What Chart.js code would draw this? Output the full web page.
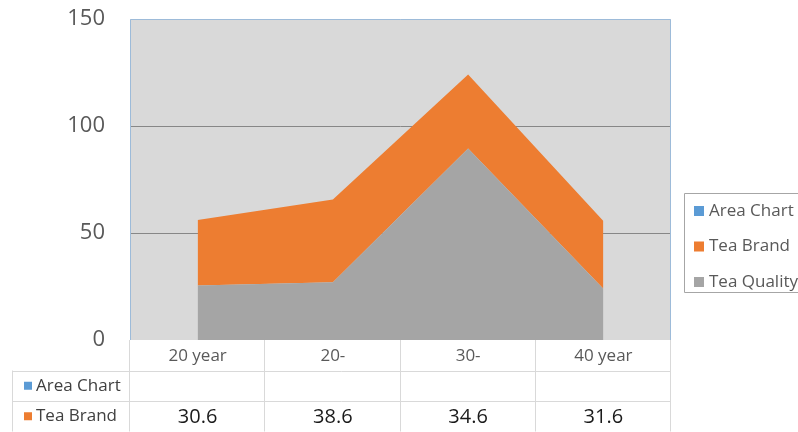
<!DOCTYPE html>
<html>
<head>
<meta charset="utf-8">
<title>Tea Brand / Tea Quality</title>
<script src="https://cdn.jsdelivr.net/npm/chart.js@4/dist/chart.umd.min.js"></script>
<style>
  html, body { margin: 0; padding: 0; background: #ffffff; }
  #wrap { width: 798px; height: 432px; position: relative; }
</style>
</head>
<body>
<div id="wrap"><canvas id="chart" width="798" height="432"></canvas></div>
<script>
// Categories along the x axis
const categories = ['20 year', '20-', '30-', '40 year'];
// Series values
const areaChart = [null, null, null, null];
const teaBrand = [30.6, 38.6, 34.6, 31.6];
const teaQuality = [25.5, 27, 89.5, 24];
// Y axis ticks
const yTicks = [0, 50, 100, 150];

const FONT = "'Open Sans', 'Liberation Sans', sans-serif";
const COLORS = {
  area: '#5b9bd5',
  brand: '#ed7d31',
  quality: '#a5a5a5',
  plotBg: '#d9d9d9',
  grid: '#878787',
  frame: '#9dbbd9',
  table: '#d9d9d9'
};

// Series shown in the legend, top to bottom
const legendOrder = [
  { label: 'Area Chart', color: COLORS.area },
  { label: 'Tea Brand', color: COLORS.brand },
  { label: 'Tea Quality', color: COLORS.quality }
];
// Rows of the data table under the axis
const tableRows = [
  { label: 'Area Chart', color: COLORS.area, values: areaChart },
  { label: 'Tea Brand', color: COLORS.brand, values: teaBrand }
];

// Gray plot background, drawn before grid lines and areas
const plotBackground = {
  id: 'plotBackground',
  beforeDraw(chart) {
    const { ctx, chartArea: a } = chart;
    ctx.save();
    ctx.fillStyle = COLORS.plotBg;
    ctx.fillRect(a.left, a.top, a.right - a.left, a.bottom - a.top);
    ctx.restore();
  }
};

// Thin frame on the left, top and right of the plot
const plotFrame = {
  id: 'plotFrame',
  afterDatasetsDraw(chart) {
    const { ctx, chartArea: a } = chart;
    ctx.save();
    ctx.strokeStyle = COLORS.frame;
    ctx.lineWidth = 1;
    ctx.beginPath();
    ctx.moveTo(a.left + 0.5, a.bottom);
    ctx.lineTo(a.left + 0.5, a.top + 0.5);
    ctx.lineTo(a.right - 0.5, a.top + 0.5);
    ctx.lineTo(a.right - 0.5, a.bottom);
    ctx.stroke();
    ctx.restore();
  }
};

// Data table below the plot, aligned to the category columns
const dataTable = {
  id: 'dataTable',
  afterDraw(chart) {
    const { ctx, chartArea: a } = chart;
    const x = chart.scales.x;
    const n = categories.length;
    const colW = (a.right - a.left) / n;
    const rowH = 30.5;
    const tableTop = a.bottom;
    const rowTops = [tableTop, tableTop + rowH, tableTop + 2 * rowH];
    const tableBottom = tableTop + 3 * rowH;
    const leftEdge = 12.5;

    ctx.save();
    ctx.strokeStyle = COLORS.table;
    ctx.lineWidth = 1;
    ctx.beginPath();
    // horizontal rules
    for (let r = 1; r <= 3; r++) {
      const y = Math.round(tableTop + r * rowH) + 0.5;
      ctx.moveTo(leftEdge, y);
      ctx.lineTo(a.right, y);
    }
    // column rules
    for (let c = 0; c <= n; c++) {
      const xx = Math.round(a.left + c * colW) - 0.5;
      ctx.moveTo(xx, tableTop);
      ctx.lineTo(xx, tableBottom);
    }
    // left edge of the label column
    ctx.moveTo(leftEdge, rowTops[1]);
    ctx.lineTo(leftEdge, tableBottom);
    ctx.stroke();

    tableRows.forEach((row, i) => {
      const cy = rowTops[i + 1] + rowH / 2;
      ctx.fillStyle = row.color;
      ctx.fillRect(24, cy - 4, 8, 8);
      ctx.fillStyle = '#404040';
      ctx.font = '17px ' + FONT;
      ctx.textAlign = 'left';
      ctx.textBaseline = 'middle';
      ctx.fillText(row.label, 36, cy);
      ctx.fillStyle = '#1a1a1a';
      ctx.font = '20px ' + FONT;
      ctx.textAlign = 'center';
      row.values.forEach((v, j) => {
        if (v === null || v === undefined) return;
        ctx.fillText(String(v), x.getPixelForValue(j), cy + 1);
      });
    });
    ctx.restore();
  }
};

// Boxed legend at the right edge
const sideLegend = {
  id: 'sideLegend',
  afterDraw(chart) {
    const { ctx } = chart;
    const boxLeft = 684.5, boxTop = 193.5, boxBottom = 292.5;
    ctx.save();
    ctx.strokeStyle = '#a6a6a6';
    ctx.lineWidth = 1;
    ctx.beginPath();
    ctx.moveTo(chart.width + 2, boxTop);
    ctx.lineTo(boxLeft, boxTop);
    ctx.lineTo(boxLeft, boxBottom);
    ctx.lineTo(chart.width + 2, boxBottom);
    ctx.stroke();
    ctx.font = '17px ' + FONT;
    ctx.textAlign = 'left';
    ctx.textBaseline = 'middle';
    legendOrder.forEach((item, i) => {
      const cy = 211 + i * 35.5;
      ctx.fillStyle = item.color;
      ctx.fillRect(694, cy - 5, 10, 10);
      ctx.fillStyle = '#595959';
      ctx.fillText(item.label, 709, cy);
    });
    ctx.restore();
  }
};

new Chart(document.getElementById('chart'), {
  type: 'line',
  data: {
    labels: categories,
    datasets: [
      {
        label: 'Tea Quality',
        data: teaQuality,
        backgroundColor: COLORS.quality,
        borderColor: COLORS.quality,
        borderWidth: 0,
        pointRadius: 0,
        fill: 'origin',
        tension: 0
      },
      {
        label: 'Tea Brand',
        data: teaBrand,
        backgroundColor: COLORS.brand,
        borderColor: COLORS.brand,
        borderWidth: 0,
        pointRadius: 0,
        fill: '-1',
        tension: 0
      },
      {
        label: 'Area Chart',
        data: areaChart,
        backgroundColor: COLORS.area,
        borderColor: COLORS.area,
        borderWidth: 0,
        pointRadius: 0,
        fill: '-1',
        tension: 0
      }
    ]
  },
  options: {
    responsive: false,
    animation: false,
    devicePixelRatio: 1,
    layout: { padding: { left: 0, right: 127, top: 19, bottom: 0 } },
    plugins: {
      legend: { display: false },
      tooltip: { enabled: false },
      filler: { propagate: false }
    },
    scales: {
      x: {
        type: 'category',
        offset: true,
        grid: { display: false, drawTicks: false },
        border: { display: false },
        ticks: {
          color: '#595959',
          font: { family: FONT, size: 17 },
          padding: 6,
          maxRotation: 0
        },
        afterFit(scale) { scale.height = 92; }
      },
      y: {
        stacked: true,
        min: 0,
        max: 150,
        afterBuildTicks(scale) {
          scale.ticks = yTicks.map(v => ({ value: v }));
        },
        grid: {
          drawTicks: true,
          tickLength: 25,
          tickColor: 'rgba(0,0,0,0)',
          color: ctx => (ctx.tick && (ctx.tick.value === 50 || ctx.tick.value === 100)) ? COLORS.grid : 'rgba(0,0,0,0)',
          lineWidth: 1
        },
        border: { display: false },
        ticks: {
          color: '#595959',
          font: { family: FONT, size: 22 },
          padding: 0
        },
        afterFit(scale) { scale.width = 130; }
      }
    }
  },
  plugins: [plotBackground, plotFrame, dataTable, sideLegend]
});
</script>
</body>
</html>
